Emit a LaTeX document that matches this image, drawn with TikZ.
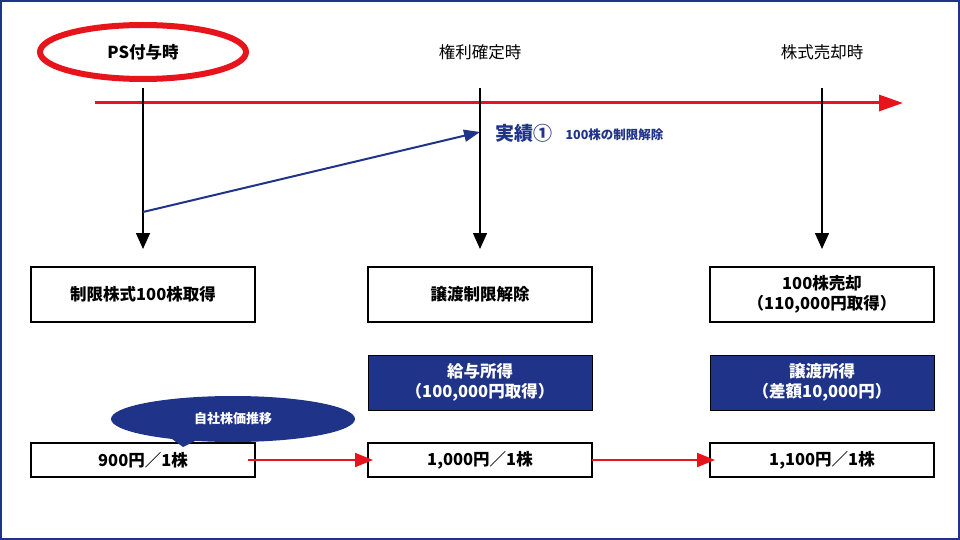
\documentclass[tikz,border=0pt]{standalone}
\usepackage{fontspec}
\setmainfont{Noto Sans CJK JP}
\usetikzlibrary{shapes.geometric,arrows.meta}
\definecolor{nv}{HTML}{1F3489}
\definecolor{rd}{HTML}{E8141B}
\begin{document}
\begin{tikzpicture}[x=1pt,y=-1pt,
 box/.style={draw,line width=1.5pt,minimum width=224pt,minimum height=55pt,font=\bfseries\fontsize{16.5}{20}\selectfont,align=center},
 pbox/.style={draw,line width=1.5pt,minimum width=224pt,minimum height=34pt,font=\bfseries\fontsize{16.5}{20}\selectfont},
 bbox/.style={draw=black,fill=nv,text=white,line width=1pt,minimum width=224pt,minimum height=55pt,font=\bfseries\fontsize{16.5}{20}\selectfont,align=center},
 down/.style={-{Triangle[length=16pt,width=14pt]},line width=1.5pt},
 rarr/.style={rd,-{Triangle[length=18pt,width=14pt]},line width=2pt},
 lbl/.style={font=\fontsize{16.5}{20}\selectfont}]
\draw[nv,line width=2pt,fill=white] (1,1) rectangle (959,539);
\node[ellipse,draw=rd,line width=6pt,minimum width=206pt,minimum height=54pt,font=\bfseries\fontsize{16.5}{20}\selectfont] (t1) at (143,52) {PS付与時};
\node[lbl] (t2) at (480,52) {権利確定時};
\node[lbl] (t3) at (822,52) {株式売却時};
\coordinate (ls) at (95,103); \coordinate (le) at (903,103);
\draw[rarr,line width=3pt,-{Triangle[length=24pt,width=16pt]}] (ls) -- (le);
\coordinate (a1) at (143,88); \coordinate (a1e) at (143,249);
\coordinate (a2) at (480,88); \coordinate (a2e) at (480,249);
\coordinate (a3) at (822,88); \coordinate (a3e) at (822,249);
\draw[down] (a1) -- (a1e);
\draw[down] (a2) -- (a2e);
\draw[down] (a3) -- (a3e);
\coordinate (bs) at (143,212); \coordinate (be) at (480,132);
\draw[nv,line width=2pt,-{Triangle[length=16pt,width=12pt]}] (bs) -- (be);
\node[nv,anchor=west,font=\bfseries\fontsize{19}{22}\selectfont] (j) at (492,133) {実績①};
\node[nv,anchor=west,font=\bfseries\fontsize{12.5}{15}\selectfont] (j2) at (562,135) {100株の制限解除};
\node[box] (b1) at (143,294.5) {制限株式100株取得};
\node[box] (b2) at (480,294.5) {譲渡制限解除};
\node[box] (b3) at (822,294.5) {100株売却\\（110,000円取得）};
\node[bbox] (c2) at (480,382.5) {給与所得\\（100,000円取得）};
\node[bbox] (c3) at (822,382.5) {譲渡所得\\（差額10,000円）};
\node[pbox] (p1) at (143,460) {900円／1株};
\node[pbox] (p2) at (480,460) {1,000円／1株};
\node[pbox] (p3) at (822,460) {1,100円／1株};
\node[ellipse,fill=nv,text=white,minimum width=244pt,minimum height=46pt,inner sep=0pt,font=\bfseries\fontsize{13}{16}\selectfont] (bub) at (233,419) {自社株価推移};
\fill[nv] (168,436) -- (183,447) -- (205,436) -- cycle;
\coordinate (r1s) at (248,460); \coordinate (r2s) at (592,460);
\coordinate (r1e) at (373,460); \coordinate (r2e) at (715,460);
\draw[rarr] (r1s) -- (r1e);
\draw[rarr] (r2s) -- (r2e);
\end{tikzpicture}
\end{document}
